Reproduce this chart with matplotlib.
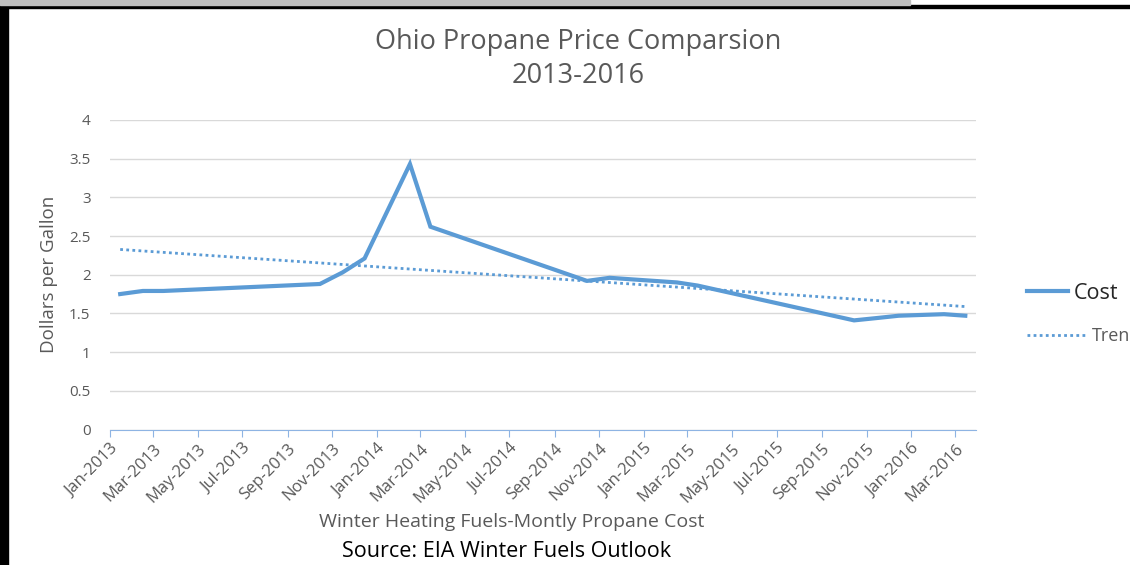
import numpy as np
import matplotlib
matplotlib.use('Agg')
import matplotlib.pyplot as plt
import matplotlib.dates as mdates
from datetime import datetime

plt.rcParams['font.family'] = ['Open Sans', 'DejaVu Sans']

# Datos: costo mensual del propano (temporada de calefaccion)
months = ['2013-01-15', '2013-02-15', '2013-03-15',
          '2013-10-15', '2013-11-15', '2013-12-15', '2014-01-15', '2014-02-15', '2014-03-15',
          '2014-10-15', '2014-11-15', '2014-12-15', '2015-01-15', '2015-02-15', '2015-03-15',
          '2015-10-15', '2015-11-15', '2015-12-15', '2016-01-15', '2016-02-15', '2016-03-15']
cost = [1.75, 1.79, 1.79,
        1.88, 2.03, 2.21, 2.82, 3.43, 2.62,
        1.92, 1.96, 1.94, 1.92, 1.90, 1.86,
        1.41, 1.44, 1.47, 1.48, 1.49, 1.47]
yticks = [0, 0.5, 1, 1.5, 2, 2.5, 3, 3.5, 4]
ytick_labels = ['0', '0.5', '1', '1.5', '2', '2.5', '3', '3.5', '4']

dates = [datetime.strptime(m, '%Y-%m-%d') for m in months]
xnum = mdates.date2num(dates)

# Linea de tendencia (lineal)
p = np.polyfit(xnum, cost, 1)
trend = np.polyval(p, xnum)

blue = '#5B9BD5'
gray = '#595959'

fig = plt.figure(figsize=(11.3, 5.65), dpi=100)
ax = fig.add_axes([0.0973, 0.2398, 0.766, 0.548])

l1, = ax.plot(dates, cost, color=blue, linewidth=3.0, solid_joinstyle='miter')
l2, = ax.plot(dates, trend, color=blue, linewidth=2.0, linestyle=(0, (1, 1.2)))

ax.set_ylim(0, 4)
ax.set_yticks(yticks)
ax.set_yticklabels(ytick_labels)
ax.set_xlim(datetime(2013, 1, 1), datetime(2016, 3, 29))
ax.xaxis.set_major_locator(mdates.MonthLocator(bymonth=[1, 3, 5, 7, 9, 11]))
ax.xaxis.set_major_formatter(mdates.DateFormatter('%b-%Y'))
plt.setp(ax.get_xticklabels(), rotation=45, ha='right', rotation_mode='anchor')

ax.grid(axis='y', color='#D9D9D9', linewidth=1)
ax.set_axisbelow(True)
for s in ['top', 'right', 'left']:
    ax.spines[s].set_visible(False)
ax.spines['bottom'].set_color('#8EB4E3')
ax.tick_params(axis='y', length=0, labelsize=11, labelcolor=gray, pad=14)
ax.tick_params(axis='x', length=5, color='#8EB4E3', labelsize=12, labelcolor=gray, pad=3)

ax.set_ylabel('Dollars per Gallon', fontsize=13.5, color=gray, labelpad=8)
ax.set_xlabel('Winter Heating Fuels-Montly Propane Cost', fontsize=14, color=gray)
ax.xaxis.set_label_coords(0.464, -0.27)

fig.text(0.512, 0.896, 'Ohio Propane Price Comparsion\n2013-2016', ha='center', va='center',
         fontsize=19.5, color=gray, linespacing=1.3)
fig.text(0.448, 0.024, 'Source: EIA Winter Fuels Outlook', ha='center', va='center',
         fontsize=15.5, color='black')

# Leyenda (dos partes, la segunda queda cortada por el borde como en la captura)
leg1 = ax.legend([l1], ['Cost'], loc='center left', bbox_to_anchor=(1.059, 0.44),
                 frameon=False, borderpad=0, borderaxespad=0, handlelength=1.9,
                 handletextpad=0.3, fontsize=15.5, labelcolor='#262626')
ax.add_artist(leg1)
leg2 = ax.legend([l2], ['Trend'], loc='center left', bbox_to_anchor=(1.059, 0.302),
                 frameon=False, borderpad=0, borderaxespad=0, handlelength=3.3,
                 handletextpad=0.3, fontsize=13, labelcolor=gray)

# Marco negro de la captura
fig.patches.append(plt.Rectangle((0, 0), 0.007, 0.99, transform=fig.transFigure, color='black'))
fig.patches.append(plt.Rectangle((0, 0.985), 1, 0.007, transform=fig.transFigure, color='black'))
fig.patches.append(plt.Rectangle((0, 0.992), 0.805, 0.008, transform=fig.transFigure, color='#BFBFBF'))

fig.savefig('out.png', dpi=100)
